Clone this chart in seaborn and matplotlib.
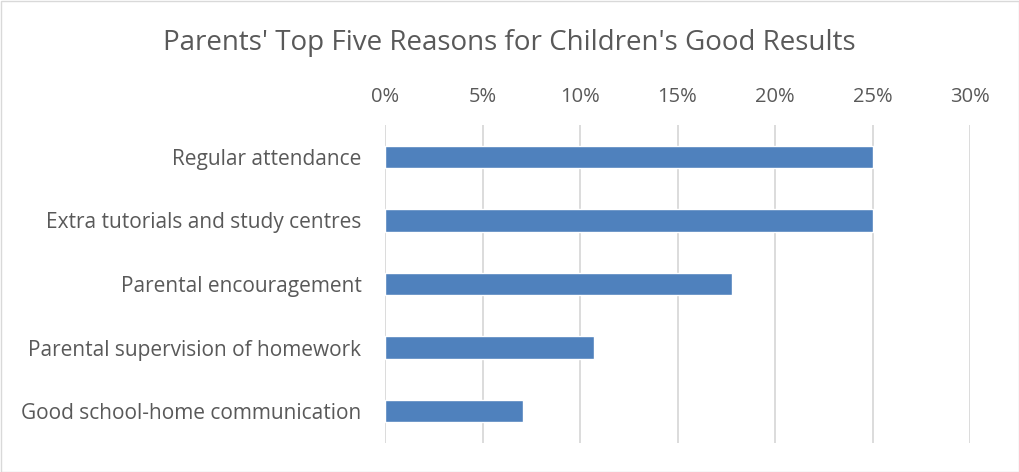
import matplotlib
matplotlib.use("Agg")
import matplotlib.pyplot as plt
import seaborn as sns
import pandas as pd
from matplotlib.ticker import PercentFormatter
from matplotlib.patches import Rectangle

reasons = [
    "Regular attendance",
    "Extra tutorials and study centres",
    "Parental encouragement",
    "Parental supervision of homework",
    "Good school-home communication",
]
shares = [0.25, 0.25, 0.178, 0.107, 0.071]
x_ticks = [0, 0.05, 0.10, 0.15, 0.20, 0.25, 0.30]

df = pd.DataFrame({"reason": reasons, "share": shares})

sns.set_theme(style="white")
plt.rcParams["font.family"] = ["Open Sans", "DejaVu Sans"]

fig = plt.figure(figsize=(10.19, 4.72), dpi=100)
ax = fig.add_axes([385 / 1019, 1 - 443 / 472, 585 / 1019, 318 / 472])

sns.barplot(data=df, x="share", y="reason", orient="h", color="#4F81BD",
            width=0.35, saturation=1, ax=ax, zorder=3)

ax.set_xlim(0, 0.30)
ax.set_xticks(x_ticks)
ax.xaxis.set_major_formatter(PercentFormatter(1.0, decimals=0))
ax.xaxis.tick_top()
ax.tick_params(axis="x", length=0, pad=13, labelsize=14.5, labelcolor="#595959")
ax.tick_params(axis="y", length=0, pad=17, labelsize=15, labelcolor="#595959")
ax.grid(axis="x", color="#d9d9d9", linewidth=1.3, zorder=0)
ax.set_axisbelow(True)
for s in ax.spines.values():
    s.set_visible(False)
ax.set_xlabel("")
ax.set_ylabel("")

fig.text(0.5, 1 - 43 / 472, "Parents' Top Five Reasons for Children's Good Results",
         ha="center", va="center", fontsize=20, color="#595959")

fig.patches.append(Rectangle((0.5 / 1019, 0.5 / 472), 1 - 1 / 1019, 1 - 1 / 472,
                             transform=fig.transFigure, fill=False,
                             edgecolor="#d9d9d9", linewidth=1))

fig.savefig("out.png", dpi=100, facecolor="white")
